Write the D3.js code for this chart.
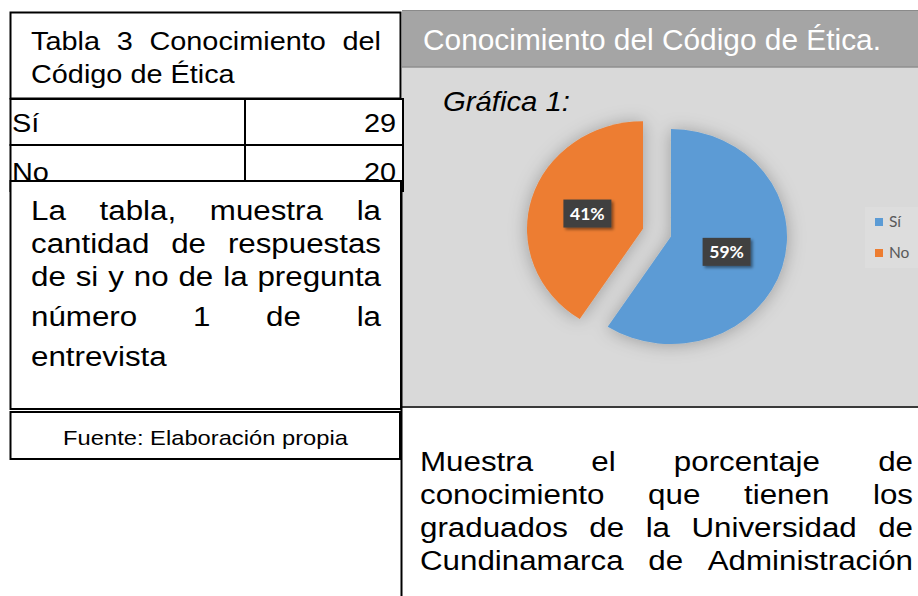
<!DOCTYPE html>
<html>
<head>
<meta charset="utf-8">
<script src="https://cdn.jsdelivr.net/npm/d3@7/dist/d3.min.js"></script>
<style>
  body { margin: 0; background: #fff; }
  svg { display: block; }
</style>
</head>
<body>
<svg id="chart" width="918" height="596"></svg>
<script>
// datos de la tabla / grafica
var categorias = ["Sí", "No"];
var respuestas = [29, 20];
var colores = ["#5b9bd5", "#ed7d31"];

// textos
var tituloTabla = ["Tabla 3 Conocimiento del", "Código de Ética"];
var textoTabla = ["La tabla, muestra la", "cantidad de respuestas", "de si y no de la pregunta", "número 1 de la", "entrevista"];
var fuente = "Fuente: Elaboración propia";
var tituloGrafica = "Conocimiento del Código de Ética.";
var subtitulo = "Gráfica 1:";
var textoGrafica = ["Muestra el porcentaje de", "conocimiento que tienen los", "graduados de la Universidad de", "Cundinamarca de Administración"];

var svg = d3.select("#chart");
var docFont = "'Liberation Sans', Arial, sans-serif";

var defs = svg.append("defs");
defs.append("filter").attr("id", "sombraPie")
  .attr("x", "-30%").attr("y", "-30%").attr("width", "160%").attr("height", "160%")
  .append("feDropShadow")
  .attr("dx", 0).attr("dy", 1).attr("stdDeviation", 9)
  .attr("flood-color", "#000").attr("flood-opacity", 0.28);
defs.append("filter").attr("id", "sombraEtiqueta")
  .attr("x", "-30%").attr("y", "-30%").attr("width", "160%").attr("height", "160%")
  .append("feDropShadow")
  .attr("dx", 2).attr("dy", 2).attr("stdDeviation", 1.5)
  .attr("flood-color", "#000").attr("flood-opacity", 0.45);

// texto con escala horizontal (el original se ve un poco ensanchado)
function texto(g, x, y, str, size, sx, anchor) {
  return g.append("text")
    .attr("transform", "translate(" + x + "," + y + ") scale(" + sx + ",1)")
    .attr("text-anchor", anchor || "start")
    .style("font-family", docFont).style("font-size", size + "px")
    .attr("fill", "#000").text(str);
}

// escribe lineas justificadas palabra por palabra
function justificar(g, lineas, x0, x1, ys, size, sx, ultimaJustificada) {
  lineas.forEach(function(linea, i) {
    var y = ys[i];
    var palabras = linea.split(" ");
    if ((i == lineas.length - 1 && !ultimaJustificada) || palabras.length == 1) {
      texto(g, x0, y, linea, size, sx);
      return;
    }
    var nodos = palabras.map(function(p) { return texto(g, 0, y, p, size, sx); });
    var anchos = nodos.map(function(n) { return n.node().getComputedTextLength() * sx; });
    var hueco = (x1 - x0 - d3.sum(anchos)) / (palabras.length - 1);
    var x = x0;
    nodos.forEach(function(n, k) {
      n.attr("transform", "translate(" + x + "," + y + ") scale(" + sx + ",1)");
      x += anchos[k] + hueco;
    });
  });
}

// ---------- panel derecho (grafica) ----------
var panel = svg.append("g");
panel.append("rect").attr("x", 402).attr("y", 67).attr("width", 516).attr("height", 340)
  .attr("fill", "#d9d9d9");
panel.append("rect").attr("x", 402).attr("y", 10).attr("width", 516).attr("height", 57)
  .attr("fill", "#a5a5a5");
panel.append("line").attr("x1", 402).attr("x2", 918).attr("y1", 10.5).attr("y2", 10.5)
  .attr("stroke", "#8a8a8a").attr("stroke-width", 1);
panel.append("line").attr("x1", 402).attr("x2", 918).attr("y1", 67).attr("y2", 67)
  .attr("stroke", "#8f8f8f").attr("stroke-width", 1.5);
panel.append("line").attr("x1", 400).attr("x2", 918).attr("y1", 407).attr("y2", 407)
  .attr("stroke", "#3a3a3a").attr("stroke-width", 2);

texto(panel, 423, 50, tituloGrafica, 29, 1.03).attr("fill", "#fff");
texto(panel, 443, 111, subtitulo, 27, 1.085).style("font-style", "italic");

// pastel
var cx = 657, cy = 232.7, radio = 116, escalaY = 0.927, separa = 14.6;
var total = d3.sum(respuestas);
var pie = d3.pie().sort(null).value(function(d) { return d; });
var arc = d3.arc().innerRadius(0).outerRadius(radio);
var porciones = pie(respuestas);

var gPie = panel.append("g")
  .attr("transform", "translate(" + cx + "," + cy + ") scale(1," + escalaY + ")")
  .attr("filter", "url(#sombraPie)");

gPie.selectAll("path")
  .data(porciones)
  .enter().append("path")
  .attr("d", arc)
  .attr("fill", function(d, i) { return colores[i]; })
  .attr("transform", function(d) {
    var m = (d.startAngle + d.endAngle) / 2;
    return "translate(" + (separa * Math.sin(m)) + "," + (-separa * Math.cos(m)) + ")";
  });

// etiquetas de porcentaje
var etiquetas = panel.selectAll("g.etiqueta")
  .data(porciones)
  .enter().append("g")
  .attr("class", "etiqueta")
  .attr("transform", function(d) {
    var m = (d.startAngle + d.endAngle) / 2;
    var c = arc.centroid(d);
    var x = cx + c[0] + separa * Math.sin(m);
    var y = cy + (c[1] - separa * Math.cos(m)) * escalaY;
    return "translate(" + x + "," + y + ")";
  });
etiquetas.append("rect")
  .attr("x", -24).attr("y", -14).attr("width", 48).attr("height", 28)
  .attr("fill", "#404040").attr("filter", "url(#sombraEtiqueta)");
etiquetas.append("text")
  .attr("text-anchor", "middle").attr("y", 6.5)
  .style("font-family", "Lato, 'Open Sans', sans-serif").style("font-size", "17.5px")
  .style("font-weight", "bold").attr("fill", "#fff")
  .text(function(d) { return Math.round(d.value / total * 100) + "%"; });

// leyenda
var leyenda = panel.append("g");
leyenda.append("rect").attr("x", 865).attr("y", 207).attr("width", 53).attr("height", 61)
  .attr("fill", "#dddddd");
var itemLey = leyenda.selectAll("g.item")
  .data(categorias)
  .enter().append("g")
  .attr("class", "item")
  .attr("transform", function(d, i) { return "translate(875," + (218 + i * 31) + ")"; });
itemLey.append("rect").attr("width", 8).attr("height", 8)
  .attr("fill", function(d, i) { return colores[i]; });
itemLey.append("text").attr("x", 14).attr("y", 9)
  .style("font-family", "Lato, 'Open Sans', sans-serif").style("font-size", "15.5px")
  .attr("fill", "#595959").text(function(d) { return d; });

// caja de texto inferior derecha
svg.append("line").attr("x1", 401.5).attr("x2", 401.5).attr("y1", 181).attr("y2", 596)
  .attr("stroke", "#000").attr("stroke-width", 2);
justificar(svg.append("g"), textoGrafica, 420, 913, [471, 504, 537, 570], 27, 1.16, true);

// ---------- panel izquierdo (tabla) ----------
var izq = svg.append("g");

// titulo
izq.append("rect").attr("x", 10.5).attr("y", 12.5).attr("width", 390).attr("height", 86)
  .attr("fill", "#fff").attr("stroke", "#000").attr("stroke-width", 2);
justificar(izq.append("g"), tituloTabla, 31, 381, [50, 83], 26, 1.11, false);

// filas de la tabla
var filaY = d3.scaleBand().domain(categorias).range([99, 191]);
var filas = izq.selectAll("g.fila")
  .data(categorias)
  .enter().append("g")
  .attr("class", "fila");
filas.append("rect")
  .attr("x", 10.5).attr("y", function(d) { return filaY(d); })
  .attr("width", 392.5).attr("height", filaY.bandwidth())
  .attr("fill", "#fff").attr("stroke", "#000").attr("stroke-width", 2);
filas.append("line")
  .attr("x1", 245).attr("x2", 245)
  .attr("y1", function(d) { return filaY(d); })
  .attr("y2", function(d) { return filaY(d) + filaY.bandwidth(); })
  .attr("stroke", "#000").attr("stroke-width", 2);
filas.each(function(d, i) {
  var y = filaY(d) + 33 + i * 3;
  texto(d3.select(this), 12, y, d, 26, 1.11);
  texto(d3.select(this), 396, y, respuestas[i], 26, 1.11, "end");
});

// caja de texto
izq.append("rect").attr("x", 10.5).attr("y", 181).attr("width", 390.5).attr("height", 228)
  .attr("fill", "#fff").attr("stroke", "#000").attr("stroke-width", 2);
justificar(izq.append("g"), textoTabla, 31, 381, [220, 253, 286, 326, 366], 27, 1.16, false);

// fuente
izq.append("rect").attr("x", 10.5).attr("y", 412).attr("width", 389.5).attr("height", 47)
  .attr("fill", "#fff").attr("stroke", "#000").attr("stroke-width", 2);
texto(izq, 205.5, 445, fuente, 21, 1.13, "middle");
</script>
</body>
</html>
